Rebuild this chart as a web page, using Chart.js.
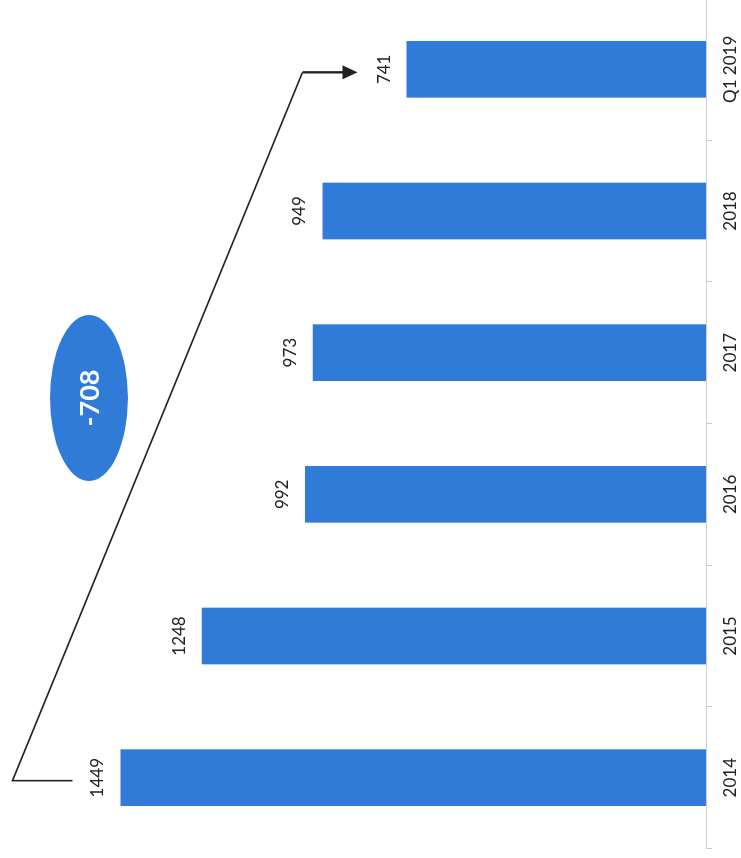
<!DOCTYPE html>
<html>
<head>
<meta charset="utf-8">
<script src="https://cdn.jsdelivr.net/npm/chart.js@4.4.1/dist/chart.umd.min.js"></script>
<style>
html, body { margin: 0; padding: 0; background: #fff; overflow: hidden; }
#wrap { position: relative; width: 741px; height: 858px; overflow: hidden; background: #fff; }
/* the page is a scan of a column chart turned on its side */
#sheet { position: absolute; left: 0; top: 0; transform-origin: 0 0; transform: translate(0px, 859px) rotate(-90deg); }
</style>
</head>
<body>
<div id="wrap"><canvas id="sheet" width="861" height="741"></canvas></div>
<script>
const YEARS = ["2014", "2015", "2016", "2017", "2018", "Q1 2019"];
const COUNTS = [1449, 1248, 992, 973, 949, 741];
const CHANGE_LABEL = "-708";

const BAR_BLUE = "#2f7bd7";
const INK = "#222222";

// value labels, the bracket arrow and the blue "-708" bubble
const notes = {
    id: "notes",
    afterDatasetsDraw(chart) {
        const ctx = chart.ctx;
        const meta = chart.getDatasetMeta(0);
        const bars = meta.data;
        const xs = chart.scales.x;

        ctx.save();
        ctx.fillStyle = INK;
        ctx.font = "17px Lato";
        ctx.textAlign = "center";
        ctx.textBaseline = "alphabetic";
        bars.forEach((bar, i) => {
            ctx.fillText(String(COUNTS[i]), bar.x, bar.y - 17);
        });

        // bracket from the first bar to the last one
        const first = bars[0];
        const last = bars[bars.length - 1];
        const xa = first.x - 3;
        const xb = last.x - 3;
        const ya = first.y - 48;
        const yTop = first.y - 108;
        const yb = last.y - 104;
        const yTip = last.y - 49;

        ctx.strokeStyle = INK;
        ctx.lineWidth = 1.6;
        ctx.beginPath();
        ctx.moveTo(xa, ya);
        ctx.lineTo(xa, yTop);
        ctx.lineTo(xb, yb);
        ctx.stroke();

        ctx.lineWidth = 2.4;
        ctx.beginPath();
        ctx.moveTo(xb, yb);
        ctx.lineTo(xb, yTip - 12);
        ctx.stroke();

        ctx.fillStyle = INK;
        ctx.beginPath();
        ctx.moveTo(xb, yTip);
        ctx.lineTo(xb - 7, yTip - 15);
        ctx.lineTo(xb + 7, yTip - 15);
        ctx.closePath();
        ctx.fill();

        // bubble sits between 2016 and 2017
        const x2 = xs.getPixelForValue(2);
        const x3 = xs.getPixelForValue(3);
        const cx = x2 + 0.68 * (x3 - x2);
        const cy = chart.chartArea.top + 70;
        ctx.fillStyle = BAR_BLUE;
        ctx.beginPath();
        ctx.ellipse(cx, cy, 83, 39, 0, 0, Math.PI * 2);
        ctx.fill();

        ctx.fillStyle = "#ffffff";
        ctx.font = "bold 27px Lato";
        ctx.textBaseline = "middle";
        ctx.fillText(CHANGE_LABEL, cx, cy + 1);
        ctx.restore();
    }
};

const ctx = document.getElementById("sheet").getContext("2d");

new Chart(ctx, {
    type: "bar",
    data: {
        labels: YEARS,
        datasets: [{
            data: COUNTS,
            backgroundColor: BAR_BLUE,
            borderWidth: 0,
            barPercentage: 0.4,
            categoryPercentage: 1.0
        }]
    },
    options: {
        responsive: false,
        animation: false,
        devicePixelRatio: 1,
        layout: { padding: { left: 10.5, right: 0.5, top: 19, bottom: 0 } },
        plugins: {
            legend: { display: false },
            tooltip: { enabled: false }
        },
        scales: {
            x: {
                offset: true,
                grid: {
                    display: true,
                    offset: true,
                    drawOnChartArea: false,
                    drawTicks: true,
                    tickLength: 6,
                    color: "#c8c8c8"
                },
                border: { display: true, color: "#cfcfcf", width: 1 },
                ticks: {
                    color: INK,
                    font: { family: "Lato", size: 17 },
                    padding: 8,
                    maxRotation: 0,
                    autoSkip: false
                },
                afterFit: scale => { scale.height = 35; }
            },
            y: { display: false, min: 0, max: 1700 }
        }
    },
    plugins: [notes]
});
</script>
</body>
</html>
